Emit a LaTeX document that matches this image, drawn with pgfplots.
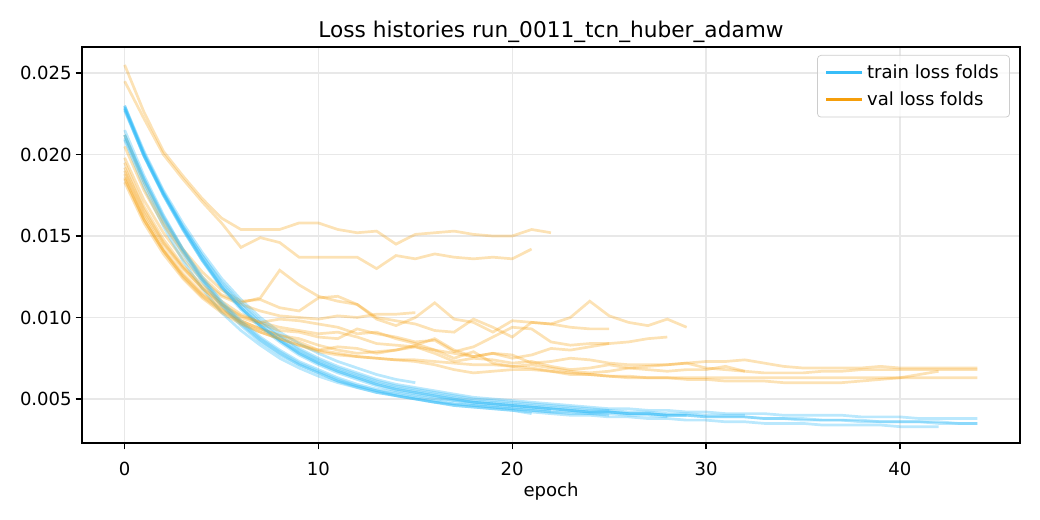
\documentclass[border=0pt]{standalone}
\usepackage{fontspec}
\setmainfont{DejaVu Sans}
\usepackage{pgfplots}
\pgfplotsset{compat=1.18}
\definecolor{trainc}{RGB}{56,189,248}
\definecolor{valc}{RGB}{245,158,11}
\definecolor{gridc}{RGB}{232,232,232}
\newcommand{\series}[2]{\addplot[#1] table[header=false, x expr=\coordindex, y index=0, row sep=\\]{#2};}
\begin{document}
\begin{tikzpicture}
\begin{axis}[
  at={(0,0)}, anchor=south west,
  scale only axis, width=519.5pt, height=219.3pt,
  xmin=-2.2, xmax=46.2, ymin=0.0023, ymax=0.0266,
  xtick={0,10,20,30,40}, ytick={0.005,0.010,0.015,0.020,0.025},
  scaled y ticks=false,
  /pgf/number format/assume math mode=true,
  yticklabel style={/pgf/number format/.cd, fixed, fixed zerofill, precision=3},
  tick label style={font=\fontsize{10}{12}\selectfont, inner sep=0pt},
  xticklabel shift=7pt, yticklabel shift=2pt,
  tick align=outside, tick pos=left, major tick length=3.5pt,
  every tick/.style={black, line width=0.8pt},
  axis line style={line width=0.8pt},
  grid=major, major grid style={gridc, line width=0.8pt},
  title={Loss histories run\_0011\_tcn\_huber\_adamw},
  title style={at={(0.5,1)}, anchor=base, yshift=-0.6pt, font=\fontsize{12}{14}\selectfont},
  xlabel={epoch},
  xlabel style={at={(0.5,0)}, anchor=north, yshift=-21.8pt, inner sep=0pt, font=\fontsize{10}{12}\selectfont},
  legend style={at={(0.9893,0.9798)}, anchor=north east, draw=black!20, rounded corners=2pt,
    fill=white, fill opacity=0.8, text opacity=1, font=\fontsize{10}{12}\selectfont,
    inner xsep=4pt, inner ysep=3pt, row sep=2pt, cells={anchor=west}},
  legend image code/.code={\draw[#1] (0pt,0pt) -- (20pt,0pt);},
  trainline/.style={trainc, opacity=0.35, line width=1.5pt, forget plot},
  valline/.style={valc, opacity=0.3, line width=1.5pt, forget plot},
]
\addlegendimage{trainc, line width=1.5pt}
\addlegendentry{train loss folds}
\addlegendimage{valc, line width=1.5pt}
\addlegendentry{val loss folds}
% fold 1
\series{trainline}{0.0230\\0.0202\\0.0178\\0.0158\\0.0140\\0.0124\\0.0111\\0.0100\\0.0091\\0.0084\\0.0078\\0.0073\\0.0069\\0.0065\\0.0062\\0.0060\\}
\series{valline}{0.0198\\0.0172\\0.0152\\0.0136\\0.0123\\0.0113\\0.0108\\0.0104\\0.0101\\0.0100\\0.0099\\0.0101\\0.0100\\0.0102\\0.0102\\0.0103\\}
% fold 2
\series{trainline}{0.0209\\0.0180\\0.0156\\0.0135\\0.0118\\0.0103\\0.0092\\0.0083\\0.0075\\0.0069\\0.0064\\0.0060\\0.0057\\0.0054\\0.0052\\0.0050\\0.0048\\0.0046\\0.0045\\0.0044\\0.0043\\0.0041\\}
\series{valline}{0.0245\\0.0222\\0.0200\\0.0185\\0.0171\\0.0158\\0.0143\\0.0149\\0.0146\\0.0137\\0.0137\\0.0137\\0.0137\\0.0130\\0.0138\\0.0136\\0.0139\\0.0137\\0.0136\\0.0137\\0.0136\\0.0142\\}
% fold 3
\series{trainline}{0.0228\\0.0199\\0.0175\\0.0154\\0.0135\\0.0118\\0.0105\\0.0094\\0.0085\\0.0077\\0.0071\\0.0066\\0.0062\\0.0058\\0.0055\\0.0053\\0.0051\\0.0049\\0.0047\\0.0046\\0.0045\\0.0044\\0.0043\\}
\series{valline}{0.0255\\0.0226\\0.0202\\0.0187\\0.0173\\0.0161\\0.0154\\0.0154\\0.0154\\0.0158\\0.0158\\0.0154\\0.0152\\0.0153\\0.0145\\0.0151\\0.0152\\0.0153\\0.0151\\0.0150\\0.0150\\0.0154\\0.0152\\}
% fold 4
\series{trainline}{0.0215\\0.0187\\0.0163\\0.0142\\0.0124\\0.0109\\0.0097\\0.0087\\0.0079\\0.0072\\0.0067\\0.0062\\0.0058\\0.0055\\0.0053\\0.0051\\0.0049\\0.0047\\0.0046\\0.0045\\0.0044\\0.0043\\0.0042\\0.0041\\0.0041\\0.0040\\}
\series{valline}{0.0212\\0.0183\\0.0160\\0.0142\\0.0128\\0.0117\\0.0110\\0.0111\\0.0106\\0.0104\\0.0112\\0.0113\\0.0108\\0.0100\\0.0098\\0.0096\\0.0092\\0.0091\\0.0099\\0.0094\\0.0088\\0.0097\\0.0096\\0.0094\\0.0093\\0.0093\\}
% fold 5
\series{trainline}{0.0229\\0.0201\\0.0177\\0.0156\\0.0138\\0.0121\\0.0108\\0.0097\\0.0088\\0.0080\\0.0074\\0.0069\\0.0065\\0.0061\\0.0058\\0.0056\\0.0054\\0.0052\\0.0050\\0.0049\\0.0048\\0.0047\\0.0046\\0.0045\\0.0044\\0.0043\\}
\series{valline}{0.0190\\0.0164\\0.0145\\0.0130\\0.0118\\0.0108\\0.0100\\0.0096\\0.0092\\0.0091\\0.0088\\0.0087\\0.0093\\0.0090\\0.0088\\0.0085\\0.0086\\0.0079\\0.0082\\0.0088\\0.0094\\0.0093\\0.0085\\0.0083\\0.0084\\0.0084\\}
% fold 6
\series{trainline}{0.0210\\0.0183\\0.0159\\0.0139\\0.0122\\0.0107\\0.0095\\0.0085\\0.0077\\0.0071\\0.0066\\0.0061\\0.0058\\0.0055\\0.0052\\0.0050\\0.0048\\0.0047\\0.0046\\0.0045\\0.0044\\0.0043\\0.0042\\0.0042\\0.0041\\0.0041\\0.0040\\0.0040\\0.0039\\}
\series{valline}{0.0185\\0.0160\\0.0141\\0.0126\\0.0114\\0.0105\\0.0098\\0.0093\\0.0089\\0.0085\\0.0080\\0.0082\\0.0081\\0.0078\\0.0080\\0.0083\\0.0087\\0.0080\\0.0076\\0.0078\\0.0075\\0.0077\\0.0081\\0.0080\\0.0082\\0.0084\\0.0085\\0.0087\\0.0088\\}
% fold 7
\series{trainline}{0.0230\\0.0200\\0.0176\\0.0155\\0.0136\\0.0119\\0.0106\\0.0095\\0.0086\\0.0078\\0.0072\\0.0067\\0.0063\\0.0059\\0.0056\\0.0054\\0.0052\\0.0050\\0.0048\\0.0047\\0.0046\\0.0045\\0.0044\\0.0043\\0.0042\\0.0042\\0.0041\\0.0041\\0.0040\\0.0040\\}
\series{valline}{0.0205\\0.0178\\0.0157\\0.0140\\0.0125\\0.0114\\0.0109\\0.0112\\0.0129\\0.0120\\0.0113\\0.0110\\0.0108\\0.0099\\0.0095\\0.0100\\0.0109\\0.0099\\0.0097\\0.0091\\0.0098\\0.0097\\0.0096\\0.0100\\0.0110\\0.0101\\0.0097\\0.0095\\0.0099\\0.0094\\}
% fold 8
\series{trainline}{0.0228\\0.0199\\0.0175\\0.0154\\0.0135\\0.0119\\0.0106\\0.0095\\0.0086\\0.0079\\0.0073\\0.0068\\0.0064\\0.0060\\0.0057\\0.0055\\0.0053\\0.0051\\0.0049\\0.0048\\0.0047\\0.0046\\0.0045\\0.0044\\0.0043\\0.0043\\0.0042\\0.0042\\0.0041\\0.0041\\0.0040\\0.0040\\0.0040\\}
\series{valline}{0.0188\\0.0162\\0.0142\\0.0127\\0.0115\\0.0106\\0.0098\\0.0093\\0.0089\\0.0087\\0.0083\\0.0080\\0.0078\\0.0079\\0.0080\\0.0082\\0.0078\\0.0073\\0.0075\\0.0074\\0.0072\\0.0073\\0.0070\\0.0068\\0.0069\\0.0071\\0.0069\\0.0070\\0.0071\\0.0072\\0.0069\\0.0068\\0.0067\\}
% fold 9
\series{trainline}{0.0212\\0.0185\\0.0161\\0.0141\\0.0123\\0.0108\\0.0096\\0.0086\\0.0078\\0.0071\\0.0066\\0.0061\\0.0057\\0.0054\\0.0052\\0.0050\\0.0048\\0.0046\\0.0045\\0.0044\\0.0043\\0.0042\\0.0041\\0.0040\\0.0040\\0.0039\\0.0039\\0.0038\\0.0038\\0.0037\\0.0037\\0.0036\\0.0036\\0.0035\\0.0035\\0.0035\\0.0034\\0.0034\\0.0034\\0.0034\\0.0033\\0.0033\\0.0033\\}
\series{valline}{0.0183\\0.0158\\0.0139\\0.0124\\0.0112\\0.0103\\0.0096\\0.0091\\0.0087\\0.0083\\0.0079\\0.0077\\0.0076\\0.0075\\0.0074\\0.0073\\0.0071\\0.0068\\0.0066\\0.0067\\0.0068\\0.0068\\0.0067\\0.0066\\0.0065\\0.0064\\0.0064\\0.0063\\0.0063\\0.0062\\0.0062\\0.0061\\0.0061\\0.0061\\0.0060\\0.0060\\0.0060\\0.0060\\0.0061\\0.0062\\0.0063\\0.0065\\0.0067\\}
% fold 10
\series{trainline}{0.0229\\0.0200\\0.0176\\0.0155\\0.0136\\0.0119\\0.0106\\0.0095\\0.0086\\0.0078\\0.0072\\0.0067\\0.0063\\0.0059\\0.0056\\0.0054\\0.0052\\0.0050\\0.0048\\0.0047\\0.0046\\0.0045\\0.0044\\0.0043\\0.0042\\0.0042\\0.0041\\0.0041\\0.0040\\0.0040\\0.0039\\0.0039\\0.0039\\0.0038\\0.0038\\0.0038\\0.0037\\0.0037\\0.0037\\0.0036\\0.0036\\0.0036\\0.0036\\0.0035\\0.0035\\}
\series{valline}{0.0195\\0.0168\\0.0148\\0.0132\\0.0120\\0.0110\\0.0102\\0.0097\\0.0094\\0.0092\\0.0090\\0.0091\\0.0088\\0.0084\\0.0083\\0.0082\\0.0080\\0.0078\\0.0076\\0.0078\\0.0077\\0.0072\\0.0073\\0.0075\\0.0074\\0.0072\\0.0071\\0.0071\\0.0071\\0.0072\\0.0073\\0.0073\\0.0074\\0.0072\\0.0070\\0.0069\\0.0069\\0.0069\\0.0069\\0.0070\\0.0069\\0.0069\\0.0069\\0.0069\\0.0069\\}
% fold 11
\series{trainline}{0.0227\\0.0199\\0.0176\\0.0156\\0.0138\\0.0122\\0.0109\\0.0098\\0.0089\\0.0081\\0.0075\\0.0070\\0.0066\\0.0062\\0.0059\\0.0057\\0.0055\\0.0053\\0.0051\\0.0050\\0.0049\\0.0048\\0.0047\\0.0046\\0.0045\\0.0044\\0.0044\\0.0043\\0.0043\\0.0042\\0.0042\\0.0041\\0.0041\\0.0041\\0.0040\\0.0040\\0.0040\\0.0040\\0.0039\\0.0039\\0.0039\\0.0038\\0.0038\\0.0038\\0.0038\\}
\series{valline}{0.0192\\0.0166\\0.0146\\0.0131\\0.0118\\0.0108\\0.0101\\0.0097\\0.0099\\0.0098\\0.0096\\0.0094\\0.0090\\0.0091\\0.0087\\0.0084\\0.0080\\0.0075\\0.0079\\0.0072\\0.0070\\0.0071\\0.0069\\0.0067\\0.0066\\0.0067\\0.0069\\0.0068\\0.0067\\0.0068\\0.0068\\0.0070\\0.0067\\0.0066\\0.0066\\0.0066\\0.0067\\0.0067\\0.0068\\0.0068\\0.0068\\0.0068\\0.0068\\0.0068\\0.0068\\}
% fold 12
\series{trainline}{0.0212\\0.0185\\0.0162\\0.0142\\0.0125\\0.0110\\0.0098\\0.0088\\0.0080\\0.0073\\0.0068\\0.0063\\0.0059\\0.0056\\0.0054\\0.0052\\0.0050\\0.0049\\0.0048\\0.0047\\0.0046\\0.0045\\0.0044\\0.0043\\0.0042\\0.0042\\0.0041\\0.0041\\0.0040\\0.0040\\0.0039\\0.0039\\0.0039\\0.0038\\0.0038\\0.0037\\0.0037\\0.0037\\0.0036\\0.0036\\0.0036\\0.0036\\0.0035\\0.0035\\0.0035\\}
\series{valline}{0.0186\\0.0160\\0.0141\\0.0125\\0.0113\\0.0104\\0.0097\\0.0091\\0.0087\\0.0083\\0.0080\\0.0078\\0.0076\\0.0075\\0.0074\\0.0074\\0.0073\\0.0072\\0.0071\\0.0071\\0.0070\\0.0069\\0.0067\\0.0065\\0.0065\\0.0064\\0.0063\\0.0063\\0.0063\\0.0063\\0.0063\\0.0063\\0.0063\\0.0063\\0.0063\\0.0063\\0.0063\\0.0063\\0.0063\\0.0063\\0.0063\\0.0063\\0.0063\\0.0063\\0.0063\\}
\end{axis}
\pgfresetboundingbox
\path (-45.41pt,-42.65pt) rectangle (530.58pt,245.33pt);
\end{tikzpicture}
\end{document}
